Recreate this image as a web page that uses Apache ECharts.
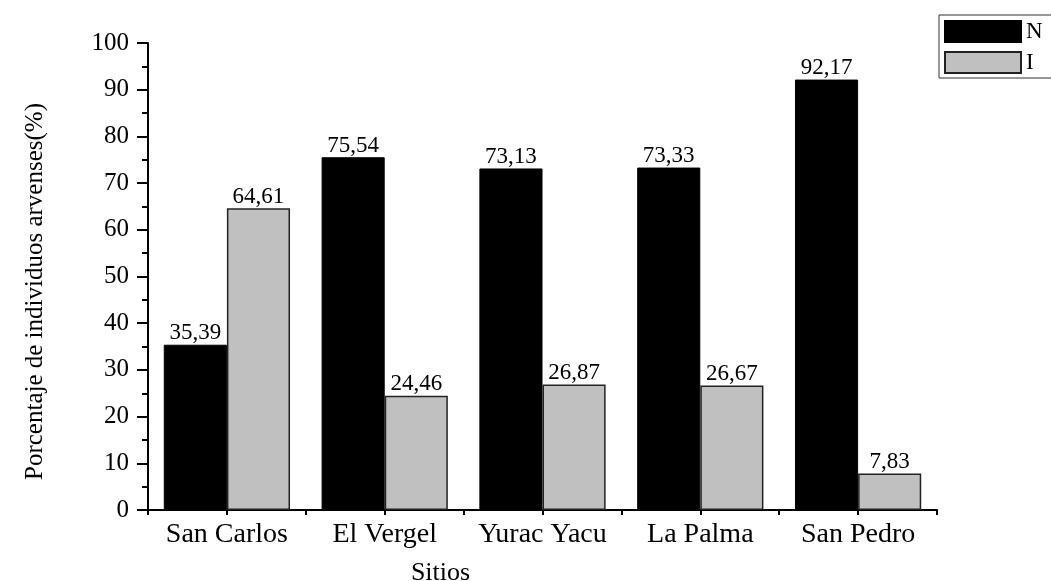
<!DOCTYPE html>
<html>
<head>
<meta charset="utf-8">
<script src="https://cdn.jsdelivr.net/npm/echarts@6/dist/echarts.min.js"></script>
<style>
  html, body { margin: 0; padding: 0; background: #fff; }
  #chart { width: 1051px; height: 581px; }
</style>
</head>
<body>
<div id="chart"></div>
<script>
  // data
  const sitios = ['San Carlos', 'El Vergel', 'Yurac Yacu', 'La Palma', 'San Pedro']
  const valoresN = [35.39, 75.54, 73.13, 73.33, 92.17]
  const valoresI = [64.61, 24.46, 26.87, 26.67, 7.83]
  const yTicks = [0, 10, 20, 30, 40, 50, 60, 70, 80, 90, 100]

  const fuente = '"Liberation Serif", "Times New Roman", serif'

  const chart = echarts.init(document.getElementById('chart'))

  const etiqueta = {
    show: true,
    position: 'top',
    distance: 0,
    color: '#000',
    fontFamily: fuente,
    fontSize: 23,
    formatter: p => p.value.toFixed(2).replace('.', ',')
  }

  chart.setOption({
    animation: false,
    backgroundColor: '#fff',
    grid: {
      left: 148,
      right: 114,
      top: 43,
      bottom: 71,
      outerBoundsMode: 'none'
    },
    legend: {
      orient: 'vertical',
      left: 939,
      top: 15,
      itemWidth: 76,
      itemHeight: 21,
      itemGap: 8,
      padding: [5, 30, 4, 5],
      borderColor: '#333',
      borderWidth: 1,
      icon: 'rect',
      textStyle: { fontFamily: fuente, fontSize: 23, color: '#000', lineHeight: 22 },
      data: ['N', 'I']
    },
    xAxis: [
      {
        type: 'category',
        data: sitios,
        name: 'Sitios',
        nameLocation: 'middle',
        nameGap: 50,
        nameTextStyle: {
          fontFamily: fuente, fontSize: 26, color: '#000',
          padding: [0, 204, 0, 0]
        },
        axisLine: { lineStyle: { color: '#000', width: 2 } },
        axisTick: { show: false },
        axisLabel: { fontFamily: fuente, fontSize: 28, color: '#000', margin: 11, interval: 0 },
        splitLine: { show: false }
      },
      {
        // tick marks at bar centres and category edges
        type: 'value',
        position: 'bottom',
        min: 0,
        max: 10,
        interval: 1,
        axisLine: { show: false },
        axisTick: { show: true, length: 5, lineStyle: { color: '#000', width: 2 } },
        axisLabel: { show: false },
        splitLine: { show: false }
      }
    ],
    yAxis: {
      type: 'value',
      min: yTicks[0],
      max: yTicks[yTicks.length - 1],
      interval: yTicks[1] - yTicks[0],
      name: 'Porcentaje de individuos arvenses(%)',
      nameLocation: 'middle',
      nameGap: 100,
      nameTextStyle: {
        fontFamily: fuente, fontSize: 25, color: '#000',
        padding: [0, 30, 0, 0]
      },
      axisLine: { show: true, lineStyle: { color: '#000', width: 2 } },
      axisTick: { show: true, length: 11, lineStyle: { color: '#000', width: 2 } },
      minorTick: { show: true, splitNumber: 2, length: 6, lineStyle: { color: '#000', width: 2 } },
      axisLabel: { fontFamily: fuente, fontSize: 25, color: '#000', margin: 19 },
      splitLine: { show: false }
    },
    series: [
      {
        name: 'N',
        type: 'bar',
        data: valoresN,
        barGap: '0%',
        barCategoryGap: '20%',
        itemStyle: { color: '#000', borderColor: '#000', borderWidth: 1 },
        label: etiqueta
      },
      {
        name: 'I',
        type: 'bar',
        data: valoresI,
        itemStyle: { color: '#c0c0c0', borderColor: '#222', borderWidth: 1.5 },
        label: etiqueta
      }
    ]
  })
</script>
</body>
</html>
